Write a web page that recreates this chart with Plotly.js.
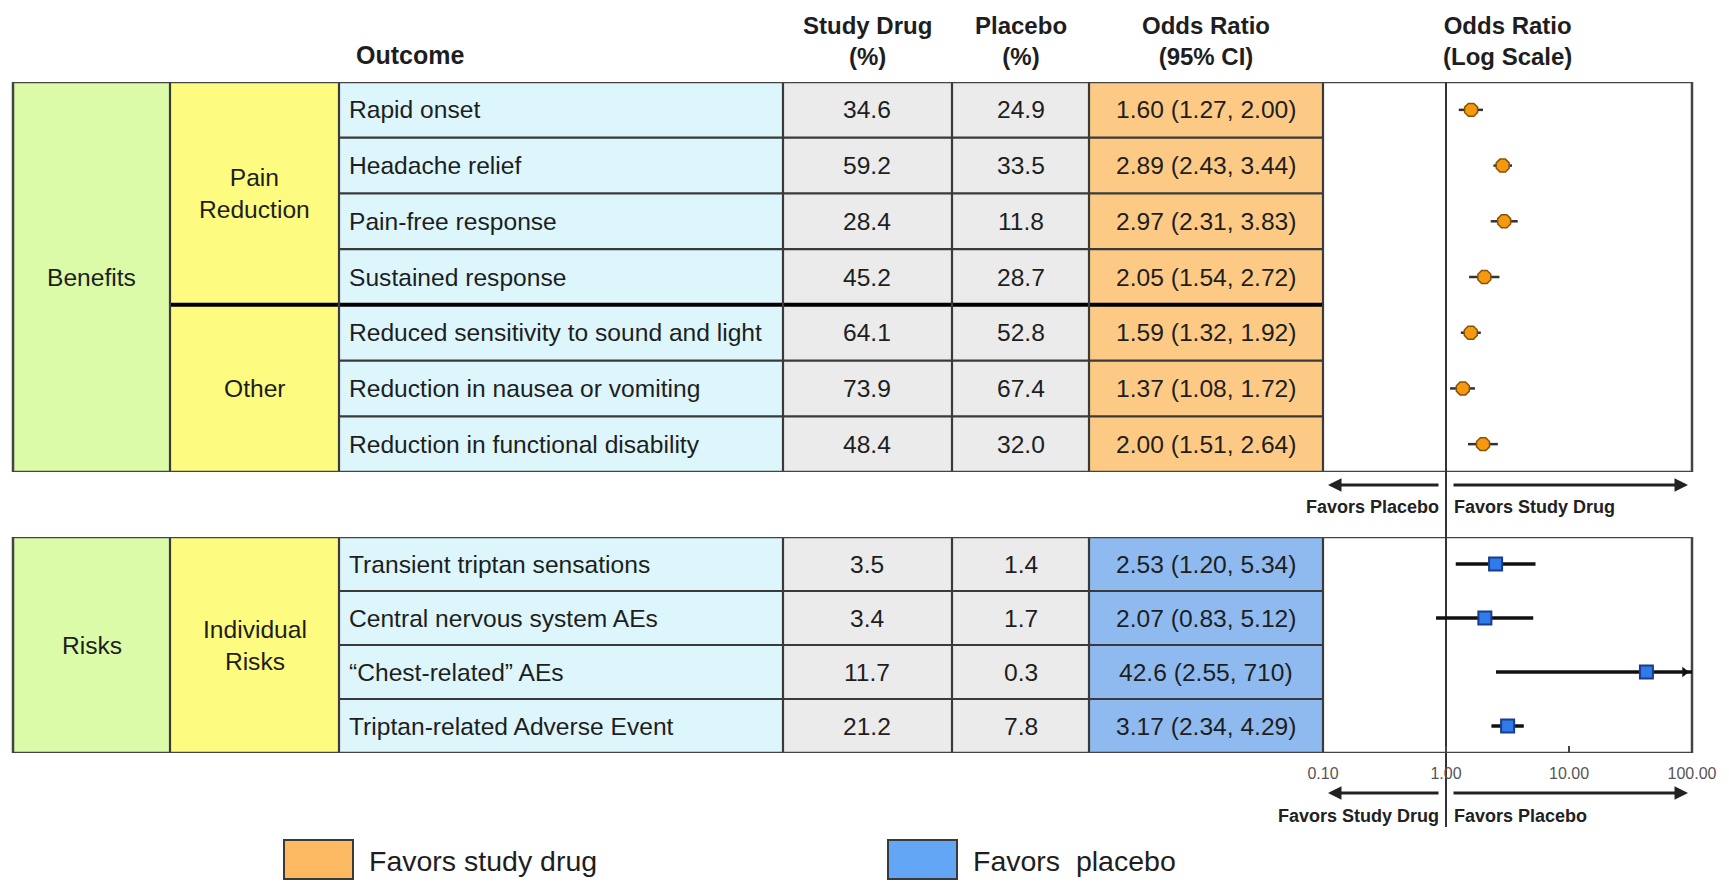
<!DOCTYPE html>
<html><head><meta charset="utf-8">
<script src="https://cdn.plot.ly/plotly-3.0.1.min.js"></script>
<style>html,body{margin:0;padding:0;background:#fff}#chart{width:1729px;height:884px}</style>
</head><body><div id="chart"></div>
<script>
// ---------- data ----------
const benefitOutcomes = ["Rapid onset","Headache relief","Pain-free response","Sustained response",
  "Reduced sensitivity to sound and light","Reduction in nausea or vomiting","Reduction in functional disability"];
const benefitDrug = [34.6,59.2,28.4,45.2,64.1,73.9,48.4];
const benefitPlacebo = [24.9,33.5,11.8,28.7,52.8,67.4,32.0];
const benefitOR = [1.60,2.89,2.97,2.05,1.59,1.37,2.00];
const benefitLo = [1.27,2.43,2.31,1.54,1.32,1.08,1.51];
const benefitHi = [2.00,3.44,3.83,2.72,1.92,1.72,2.64];
const benefitSubgroups = ["Pain<br>Reduction","Other"];
const benefitSubgroupRows = [[0,3],[4,6]];

const riskOutcomes = ["Transient triptan sensations","Central nervous system AEs","\u201cChest-related\u201d AEs","Triptan-related Adverse Event"];
const riskDrug = [3.5,3.4,11.7,21.2];
const riskPlacebo = [1.4,1.7,0.3,7.8];
const riskOR = [2.53,2.07,42.6,3.17];
const riskLo = [1.20,0.83,2.55,2.34];
const riskHi = [5.34,5.12,710,4.29];
const riskSubgroups = ["Individual<br>Risks"];
const riskSubgroupRows = [[0,3]];

const tickVals = [0.1,1,10,100];
const tickText = ["0.10","1.00","10.00","100.00"];
const legendLabels = ["Favors study drug","Favors  placebo"];

// ---------- layout helpers ----------
const W=1729,H=884;
const px = v => v/W, py = v => 1 - v/H;
const colX = [13,170,339,783,952,1089,1323,1692];
const FONT = "Liberation Sans, Arial, Helvetica, sans-serif";
const TXT = "#1e1e1e";
const C = {green:"#dcfba8", yellow:"#fdfc80", cyan:"#dcf6fb", gray:"#ebebeb",
           orange:"#fcca84", blue:"#8ebaf0", line:"#3a3a3a"};
const fmt = v => v >= 100 ? v.toFixed(0) : (v >= 10 ? v.toFixed(1) : v.toFixed(2));
const orText = (o,l,h) => fmt(o)+" ("+fmt(l)+", "+fmt(h)+")";

const shapes = [], annotations = [];
function ann(o){ annotations.push(Object.assign({showarrow:false,xanchor:'center',yanchor:'middle'},o)); }

function buildTable(yref, n, orColor, outcomes, drug, plac, or, lo, hi, groupLabel, subLabels, subRows, thickAfter){
  const y0=-0.5, y1=n-0.5;
  const fills=[C.green,C.yellow,C.cyan,C.gray,C.gray,orColor];
  fills.forEach((f,i)=>shapes.push({type:'rect',xref:'paper',yref,x0:px(colX[i]),x1:px(colX[i+1]),y0,y1,
    fillcolor:f,line:{width:0},layer:'below'}));
  for(let i=0;i<n-1;i++){
    const thick = thickAfter.includes(i);
    shapes.push({type:'line',xref:'paper',yref,x0:px(thick?colX[1]:colX[2]),x1:px(colX[6]),y0:i+0.5,y1:i+0.5,
      line:{color:thick?'#000':C.line,width:thick?4:2.2},layer:'below'});
  }
  for(let k=1;k<=6;k++) shapes.push({type:'line',xref:'paper',yref,x0:px(colX[k]),x1:px(colX[k]),y0,y1,
      line:{color:C.line,width:2.2},layer:'below'});
  shapes.push({type:'rect',xref:'paper',yref,x0:px(colX[0]),x1:px(colX[7]),y0,y1,line:{color:'#444',width:2.5},layer:'below'});
  const f = {family:FONT,size:24.6,color:TXT};
  for(let i=0;i<n;i++){
    ann({xref:'paper',yref,x:px(colX[2]+8),y:i,text:outcomes[i],xanchor:'left',font:f});
    ann({xref:'paper',yref,x:px((colX[3]+colX[4])/2),y:i,text:drug[i].toFixed(1),font:f});
    ann({xref:'paper',yref,x:px((colX[4]+colX[5])/2),y:i,text:plac[i].toFixed(1),font:f});
    ann({xref:'paper',yref,x:px((colX[5]+colX[6])/2),y:i,text:orText(or[i],lo[i],hi[i]),font:f});
  }
  ann({xref:'paper',yref,x:px((colX[0]+colX[1])/2),y:(n-1)/2,text:groupLabel,font:f});
  subLabels.forEach((s,j)=>ann({xref:'paper',yref,x:px((colX[1]+colX[2])/2),
     y:(subRows[j][0]+subRows[j][1])/2,text:s,font:f}));
}

buildTable('y2',benefitOutcomes.length,C.orange,benefitOutcomes,benefitDrug,benefitPlacebo,benefitOR,benefitLo,benefitHi,
  "Benefits",benefitSubgroups,benefitSubgroupRows,[3]);
buildTable('y3',riskOutcomes.length,C.blue,riskOutcomes,riskDrug,riskPlacebo,riskOR,riskLo,riskHi,
  "Risks",riskSubgroups,riskSubgroupRows,[]);

// reference line at OR = 1
shapes.push({type:'line',xref:'x2',yref:'paper',x0:1,x1:1,y0:py(827),y1:py(82),line:{color:'#333',width:2},layer:'below'});

// headers
const hf = {family:FONT,size:24,color:TXT};
[["Outcome",410,55,25],["Study Drug<br>(%)",(colX[3]+colX[4])/2,41,24],["Placebo<br>(%)",(colX[4]+colX[5])/2,41,24],
 ["Odds Ratio<br>(95% CI)",(colX[5]+colX[6])/2,41,24],["Odds Ratio<br>(Log Scale)",(colX[6]+colX[7])/2,41,24]]
 .forEach(h=>ann({xref:'paper',yref:'paper',x:px(h[1]),y:py(h[2]),text:"<b>"+h[0].replace("<br>","</b><br><b>")+"</b>",
   font:Object.assign({},hf,{size:h[3]})}));

// direction arrows + labels
const af = {family:FONT,size:18,color:'#222'};
function arrows(yArrow,yText,leftLabel,rightLabel){
  annotations.push({xref:'paper',yref:'paper',x:px(1328),y:py(yArrow),ax:1440-1328,ay:0,text:'',showarrow:true,
    arrowhead:2,arrowsize:0.9,arrowwidth:3,arrowcolor:'#222'});
  annotations.push({xref:'paper',yref:'paper',x:px(1688),y:py(yArrow),ax:1452-1688,ay:0,text:'',showarrow:true,
    arrowhead:2,arrowsize:0.9,arrowwidth:3,arrowcolor:'#222'});
  ann({xref:'paper',yref:'paper',x:px(1441),y:py(yText),text:"<b>"+leftLabel+"</b>",xanchor:'right',font:af});
  ann({xref:'paper',yref:'paper',x:px(1452),y:py(yText),text:"<b>"+rightLabel+"</b>",xanchor:'left',font:af});
}
arrows(485,507,"Favors Placebo","Favors Study Drug");
arrows(793,816,"Favors Study Drug","Favors Placebo");

// legend
const legendColors = ["#fdb962","#63a6f5"];
const legendX = [284,888];
legendLabels.forEach((l,i)=>{
  shapes.push({type:'rect',xref:'paper',yref:'paper',x0:px(legendX[i]),x1:px(legendX[i]+69),y0:py(879),y1:py(840),
    fillcolor:legendColors[i],line:{color:'#3a3a3a',width:2}});
  ann({xref:'paper',yref:'paper',x:px(legendX[i]+83),y:py(861),text:l,xanchor:'left',
    font:{family:FONT,size:28.5,color:TXT}});
});

// ---------- traces ----------
const idx = a => a.map((_,i)=>i);
const xMax = tickVals[tickVals.length-1];
const traces = [
  {type:'scatter',mode:'markers',x:benefitOR,y:idx(benefitOR),xaxis:'x2',yaxis:'y2',
   marker:{symbol:'octagon',size:14,color:'#f59a10',line:{color:'#8a5200',width:1.5}},
   error_x:{type:'data',symmetric:false,array:benefitHi.map((h,i)=>h-benefitOR[i]),arrayminus:benefitOR.map((o,i)=>o-benefitLo[i]),
     color:'#333',thickness:2.5,width:0},hoverinfo:'x'},
  {type:'scatter',mode:'markers',x:riskOR,y:idx(riskOR),xaxis:'x2',yaxis:'y3',
   marker:{symbol:'square',size:13,color:'#2f7bea',line:{color:'#1b3c8c',width:2}},
   error_x:{type:'data',symmetric:false,array:riskHi.map((h,i)=>h-riskOR[i]),arrayminus:riskOR.map((o,i)=>o-riskLo[i]),
     color:'#111',thickness:3.5,width:0},hoverinfo:'x'},
  {type:'scatter',mode:'markers',x:riskHi.filter(h=>h>xMax).map(()=>xMax*0.87),
   y:riskHi.map((h,i)=>h>xMax?i:null).filter(v=>v!==null),xaxis:'x2',yaxis:'y3',
   marker:{symbol:'triangle-right',size:9,color:'#111'},cliponaxis:false,hoverinfo:'skip'}
];

const layout = {
  width:W,height:H,margin:{l:0,r:0,t:0,b:0},paper_bgcolor:'#fff',plot_bgcolor:'rgba(0,0,0,0)',
  showlegend:false,
  xaxis:{visible:false},yaxis:{visible:false},
  xaxis2:{type:'log',domain:[px(colX[6]),px(colX[7])],range:[-1,2],anchor:'y3',
    tickvals:tickVals,ticktext:tickText,ticks:'inside',ticklen:7,tickwidth:1.5,tickcolor:'#444',
    showgrid:false,zeroline:false,showline:false,ticklabelstandoff:9,
    tickfont:{family:FONT,size:16,color:'#555'},fixedrange:true},
  yaxis2:{domain:[py(472),py(82)],range:[6.5,-0.5],visible:false,fixedrange:true},
  yaxis3:{domain:[py(753),py(537)],range:[3.5,-0.5],visible:false,fixedrange:true},
  shapes, annotations
};
Plotly.newPlot('chart',traces,layout,{displayModeBar:false,staticPlot:true});
</script></body></html>
